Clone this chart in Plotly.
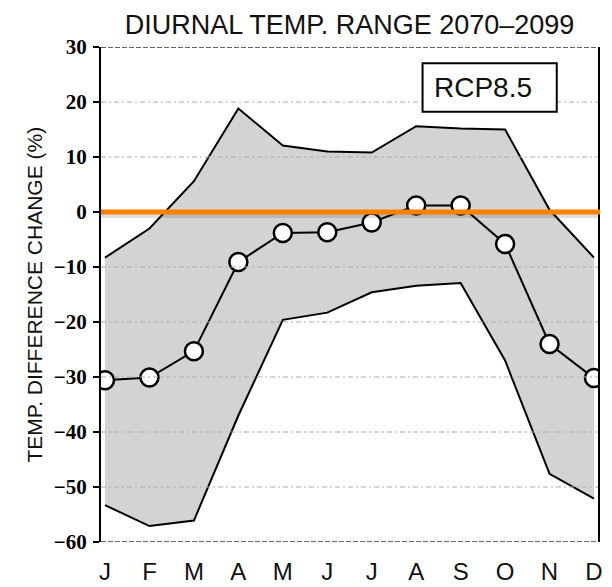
import plotly.graph_objects as go

# Monthly diurnal temperature range change (%), 2070-2099, RCP8.5
months = ["J", "F", "M", "A", "M", "J", "J", "A", "S", "O", "N", "D"]
month_idx = list(range(len(months)))
ens_mean = [-30.6, -30.1, -25.3, -9.1, -3.8, -3.7, -1.9, 1.2, 1.2, -5.8, -24.0, -30.2]
ens_upper = [-8.3, -3.0, 5.6, 18.8, 12.1, 11.0, 10.8, 15.6, 15.2, 15.0, 0.4, -8.3]
ens_lower = [-53.3, -57.1, -56.1, -37.0, -19.6, -18.3, -14.6, -13.4, -12.9, -27.0, -47.6, -52.1]
y_ticks = [-60, -50, -40, -30, -20, -10, 0, 10, 20, 30]
y_ticktext = [str(v).replace("-", "\u2212") for v in y_ticks]
inner_grid = [-50, -40, -30, -20, -10, 10, 20]
frame_grid = [-60, 30]
zero_ref = 0

fig = go.Figure()

# spread band: lower edge, then upper edge filled down to it
fig.add_trace(go.Scatter(
    x=month_idx, y=ens_lower, mode="lines",
    line=dict(color="black", width=2), hoverinfo="skip", showlegend=False))
fig.add_trace(go.Scatter(
    x=month_idx, y=ens_upper, mode="lines", fill="tonexty",
    fillcolor="#d3d3d3", line=dict(color="black", width=2),
    hoverinfo="skip", showlegend=False))

# ensemble mean
fig.add_trace(go.Scatter(
    x=month_idx, y=ens_mean, mode="lines+markers",
    line=dict(color="black", width=2),
    marker=dict(size=18, color="white", line=dict(color="black", width=2.5)),
    showlegend=False))

shapes = []
for g in inner_grid:
    shapes.append(dict(type="line", xref="paper", x0=0, x1=1, yref="y", y0=g, y1=g,
                       line=dict(color="#ababab", width=1.2, dash="5px,3px,2px,3px"),
                       layer="above"))
for g in frame_grid:
    shapes.append(dict(type="line", xref="paper", x0=0, x1=1, yref="y", y0=g, y1=g,
                       line=dict(color="#333333", width=1.5, dash="5px,2px"),
                       layer="above"))

# zero reference line with a soft shadow beneath
shapes.append(dict(type="line", xref="paper", x0=0, x1=1.004, yref="y",
                   y0=zero_ref - 0.55, y1=zero_ref - 0.55,
                   line=dict(color="rgba(0,0,0,0.13)", width=6), layer="above"))
shapes.append(dict(type="line", xref="paper", x0=0, x1=1.004, yref="y",
                   y0=zero_ref, y1=zero_ref,
                   line=dict(color="#ff8000", width=5), layer="above"))

# scenario label box
shapes.append(dict(type="rect", xref="paper", yref="paper",
                   x0=0.647, x1=0.917, y0=0.869, y1=0.967,
                   fillcolor="white", line=dict(color="black", width=2),
                   layer="above"))

fig.update_layout(
    width=612, height=587,
    margin=dict(l=101, r=14, t=47, b=45, autoexpand=False),
    paper_bgcolor="white", plot_bgcolor="white",
    title=dict(text="DIURNAL TEMP. RANGE 2070\u20132099",
               x=0.5, xref="paper", y=1 - 25 / 587, yanchor="middle",
               font=dict(family="Liberation Sans", size=27, color="#111111")),
    shapes=shapes,
    annotations=[
        dict(text="RCP8.5", xref="paper", yref="paper", x=0.7696, y=0.918,
             xanchor="center", yanchor="middle", showarrow=False,
             font=dict(family="Liberation Sans", size=28, color="#111111")),
        dict(text="TEMP. DIFFERENCE CHANGE (%)", xref="paper", yref="paper",
             x=(34 - 101) / 497, y=0.5, xanchor="center", yanchor="middle",
             textangle=-90, showarrow=False,
             font=dict(family="Liberation Sans", size=21, color="#111111")),
    ],
    xaxis=dict(range=[-0.09, 11.09], tickvals=month_idx, ticktext=months,
               showgrid=False, zeroline=False, showline=False, ticks="",
               ticklabelstandoff=13, automargin=False,
               tickfont=dict(family="Liberation Sans", size=24, color="#111111")),
    yaxis=dict(range=[-60, 30], tickvals=y_ticks, ticktext=y_ticktext,
               showgrid=False, zeroline=False, automargin=False,
               showline=True, mirror=True, linecolor="black", linewidth=2,
               ticks="outside", ticklen=6, tickwidth=1.5, tickcolor="black",
               ticklabelstandoff=2,
               tickfont=dict(family="Liberation Sans Narrow", size=21,
                             color="black", weight="bold")),
)

fig.write_html("out.html")
